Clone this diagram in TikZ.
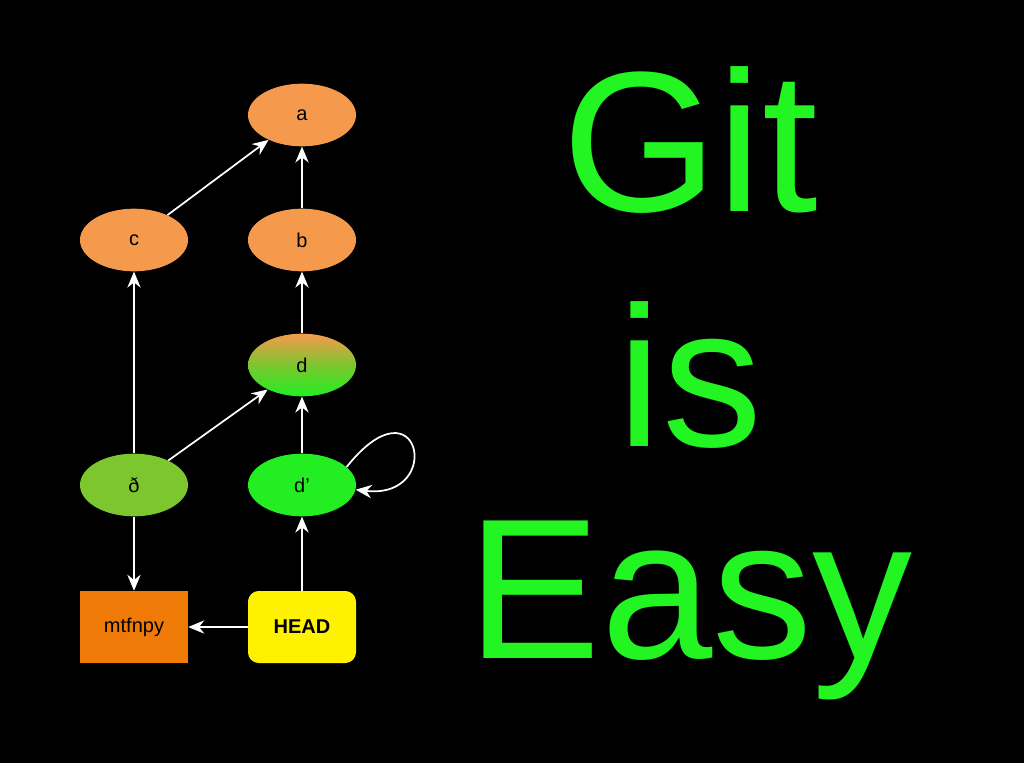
\documentclass[tikz,border=0pt]{standalone}
\usepackage{fontspec}
\setmainfont{Liberation Sans}
\usetikzlibrary{shapes.geometric,arrows.meta}
\definecolor{org}{HTML}{F59A4C}
\definecolor{eth}{HTML}{7CC62E}
\definecolor{gr}{HTML}{22EE22}
\definecolor{mt}{HTML}{F07A08}
\definecolor{big}{HTML}{22F522}
\begin{document}
\begin{tikzpicture}[x=0.75pt,y=-0.75pt,
  el/.style={ellipse,minimum width=81pt,minimum height=47pt,inner sep=0pt,font=\fontsize{15}{17}\selectfont},
  bx/.style={rectangle,minimum width=81pt,minimum height=54pt,inner sep=0pt,font=\fontsize{15}{17}\selectfont},
  ar/.style={draw=white,line width=1.3pt,-{Stealth[length=12pt,width=10pt]}},
  huge/.style={text=big,font=\fontsize{150}{150}\selectfont}]
\fill[black] (0,0) rectangle (1024,763);
\useasboundingbox (0,0) rectangle (1024,763);
\node[el,fill=org] (a) at (302,115) {a};
\node[el,fill=org] (c) at (134,240) {c};
\node[el,fill=org] (b) at (302,240) {b};
\node[el,top color=org,bottom color=gr,middle color=eth] (d) at (302,365) {d};
\node[el,fill=eth] (e) at (134,485) {ð};
\node[el,fill=gr] (dp) at (302,485) {d\char"0027};
\node[bx,fill=mt] (m) at (134,627) {mtfnpy};
\node[bx,fill=yellow,rounded corners=8pt,font=\fontsize{15}{17}\selectfont\bfseries] (h) at (302,627) {HEAD};
\draw[ar] (c) -- (a);
\draw[ar] (b) -- (a);
\draw[ar] (d) -- (b);
\draw[ar] (e) -- (c);
\draw[ar] (e) -- (d);
\draw[ar] (dp) -- (d);
\draw[ar] (e) -- (m);
\draw[ar] (h) -- (dp);
\draw[ar] (h) -- (m);
\draw[ar] (dp.22) .. controls (420,375) and (445,500) .. (dp.-5);
\node[huge] (g) at (690,140) {Git};
\node[huge] (i) at (690,375) {is};
\node[huge] (ey) at (690,610) {Easy};
\end{tikzpicture}
\end{document}
